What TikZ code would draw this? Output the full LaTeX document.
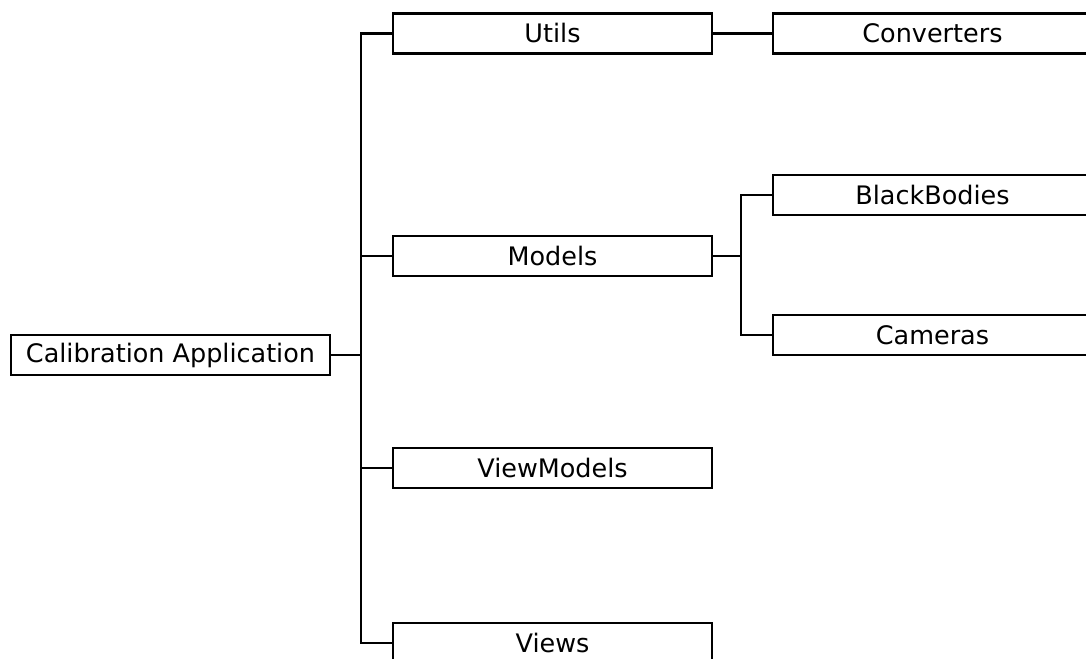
\documentclass[tikz,border=0pt]{standalone}
\usepackage{fontspec}
\setmainfont{DejaVu Sans}
\usepackage{tikz}
\usetikzlibrary{positioning}

\begin{document}
\begin{tikzpicture}[x=0.02cm, y=-0.02cm,
    box/.style={rectangle, draw, line width=1.5pt, minimum width=6.38cm, minimum height=0.8cm,
      inner sep=0pt, text centered, font=\fontsize{14.5}{17}\selectfont},
    link/.style={line width=1.5pt, line cap=rect}]

    \path[use as bounding box, clip] (0,0) rectangle (1086,659);

    \node[box] (app) at (170.5,355) {Calibration Application};
    \node[box] (utils) at (552.5,33.5) {Utils};
    \node[box] (models) at (552.5,256) {Models};
    \node[box] (viewmodels) at (552.5,468) {ViewModels};
    \node[box] (views) at (552.5,643) {Views};
    \node[box] (converters) at (932.5,33.5) {Converters};
    \node[box] (blackbodies) at (932.5,195) {BlackBodies};
    \node[box] (cameras) at (932.5,335) {Cameras};

    % trunk of the tree
    \coordinate (trunk) at (361,0);
    \coordinate (fork) at (741,0);

    \draw[link] (app.east) -- (trunk |- app.east);
    \draw[link] (trunk |- utils.west) -- (trunk |- views.west);
    \foreach \n in {utils,models,viewmodels,views}
        \draw[link] (trunk |- \n.west) -- (\n.west);

    \draw[link] (utils.east) -- (converters.west);

    \draw[link] (models.east) -- (fork |- models.east);
    \draw[link] (fork |- blackbodies.west) -- (fork |- cameras.west);
    \draw[link] (fork |- blackbodies.west) -- (blackbodies.west);
    \draw[link] (fork |- cameras.west) -- (cameras.west);
\end{tikzpicture}
\end{document}
